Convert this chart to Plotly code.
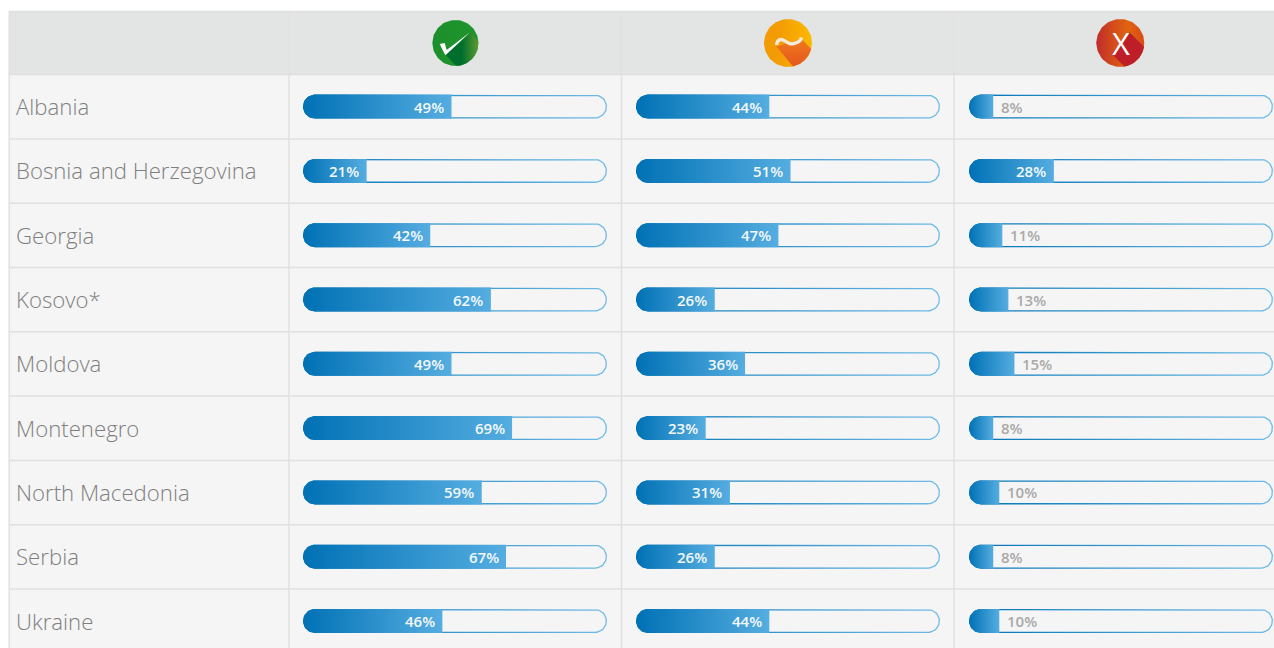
import numpy as np
import plotly.graph_objects as go

countries = ["Albania", "Bosnia and Herzegovina", "Georgia", "Kosovo*", "Moldova",
             "Montenegro", "North Macedonia", "Serbia", "Ukraine"]
yes_values = [49, 21, 42, 62, 49, 69, 59, 67, 46]
partly_values = [44, 51, 47, 26, 36, 23, 31, 26, 44]
no_values = [8, 28, 11, 13, 15, 8, 10, 8, 10]
series = [yes_values, partly_values, no_values]

W, H = 1274, 648
ROW_PITCH = 64.3
ROW0 = 106.6
BAR_W = 304.0
BAR_X = [303.0, 636.0, 969.0]
PX_PER_PCT = 3.03
TRACK_END = BAR_W / PX_PER_PCT
R = 12.0
GRID = "#e0e0e0"
ROW_BG = "#f5f5f5"
HEAD_BG = "#e3e5e4"
BORDER_L, BORDER_R = "#0072b5", "#6fbbe6"
FILL_L, FILL_R = "#0071b5", "#55ade0"

fig = go.Figure()

def hgrad(*stops):
    n = len(stops) - 1
    return dict(type="horizontal", colorscale=[[i / n, c] for i, c in enumerate(stops)])

def pill(x0, x1, row, rad_px, round_right=True):
    t = np.linspace(-np.pi / 2, np.pi / 2, 25)
    ry = rad_px / ROW_PITCH
    rx = rad_px / PX_PER_PCT
    xl = x0 + rx - rx * np.cos(t)
    yl = row - ry * np.sin(t)
    if round_right:
        xr = x1 - rx + rx * np.cos(t)
        yr = row + ry * np.sin(t)
    else:
        xr = np.array([x1, x1])
        yr = np.array([row - ry, row + ry])
    return np.concatenate([xl, xr]), np.concatenate([yl, yr])

def add_area(xs, ys, xa, ya, fillcolor=None, fillgradient=None):
    kw = dict(x=list(xs) + [xs[0]], y=list(ys) + [ys[0]], mode="lines", fill="toself",
              line=dict(width=0), hoverinfo="skip", showlegend=False, xaxis=xa, yaxis=ya)
    if fillgradient:
        kw["fillgradient"] = fillgradient
    else:
        kw["fillcolor"] = fillcolor
    fig.add_trace(go.Scatter(**kw))

axes = ["x", "x2", "x3"]
for col, vals in enumerate(series):
    for row, v in enumerate(vals):
        xs, ys = pill(0, TRACK_END, row, R)
        add_area(xs, ys, axes[col], "y", fillgradient=hgrad(BORDER_L, BORDER_R))
        inset = 1.3
        xs, ys = pill(inset / PX_PER_PCT, TRACK_END - inset / PX_PER_PCT, row, R - inset)
        add_area(xs, ys, axes[col], "y", fillcolor=ROW_BG)
        xs, ys = pill(0, v, row, R, round_right=False)
        add_area(xs, ys, axes[col], "y", fillgradient=hgrad(FILL_L, FILL_R))

annotations = []
for col, vals in enumerate(series):
    for row, v in enumerate(vals):
        inside = v >= 20
        annotations.append(dict(
            x=v, y=row, xref=axes[col], yref="y", text=f"{v}%", showarrow=False,
            xanchor="right" if inside else "left", xshift=-5.5 if inside else 6, yshift=0,
            font=dict(family="Open Sans", size=15, weight=600,
                      color="#f4f8fb" if inside else "#a9a9a9")))
for row, c in enumerate(countries):
    annotations.append(dict(
        x=14 / W, y=row, xref="paper", yref="y", text=c, showarrow=False, xanchor="left",
        font=dict(family="Open Sans", size=22.2, weight=300, color="#7f7f7f")))

# ---------- page-space icons
def circle(cx, cy, r):
    t = np.linspace(0, 2 * np.pi, 90)
    return cx + r * np.cos(t), cy + r * np.sin(t)

def clip_poly(points, cx, cy, r):
    pts = np.array(points + [points[0]], float)
    out = []
    for a, b in zip(pts[:-1], pts[1:]):
        for s in np.linspace(0, 1, 30, endpoint=False):
            p = a + (b - a) * s
            d = np.hypot(*(p - [cx, cy]))
            if d > r:
                p = np.array([cx, cy]) + (p - [cx, cy]) * r / d
            out.append(p)
    out = np.array(out)
    return out[:, 0], out[:, 1]

# green
cx, cy, r = 455.4, 43.0, 23.0
xs, ys = circle(cx, cy, r)
add_area(xs, ys, "x4", "y2", fillgradient=hgrad("#1c8f2c", "#1f952b"))
xs, ys = clip_poly([(445.7, 54.7), (470, 32.3), (480, 42), (480, 60), (458, 68)], cx, cy, r)
add_area(xs, ys, "x4", "y2", fillgradient=hgrad("#006f2e", "#006f2e", "#5d9b2f"))
check = [(439.7, 44), (444.6, 43), (446.7, 50), (470, 32.3), (446, 54.7), (445, 54.7)]
add_area([p[0] for p in check], [p[1] for p in check], "x4", "y2", fillcolor="#ffffff")

# orange
cx, cy, r = 788.0, 43.0, 24.0
xs, ys = circle(cx, cy, r)
add_area(xs, ys, "x4", "y2", fillgradient=hgrad("#f39a05", "#f39c04", "#f8ab02", "#fbb900"))
xs, ys = clip_poly([(776.5, 46.5), (801, 38.5), (813, 50), (813, 62), (795, 69)], cx, cy, r)
add_area(xs, ys, "x4", "y2", fillgradient=dict(type="vertical", colorscale=[[0, "#e4571f"], [1, "#ef7a1c"]]))
wx = [776.5, 778, 781, 785, 789.5, 794, 798, 800.5, 801.5]
wy = [45, 41, 39.5, 41, 43.5, 43.5, 42, 40, 37.5]
fig.add_trace(go.Scatter(x=wx, y=wy, mode="lines", line=dict(color="#f5ead9", width=3.4, shape="spline"),
                         hoverinfo="skip", showlegend=False, xaxis="x4", yaxis="y2"))

# red
cx, cy, r = 1120.3, 43.0, 24.0
xs, ys = circle(cx, cy, r)
add_area(xs, ys, "x4", "y2", fillgradient=hgrad("#c02c2c", "#d24a1c", "#e0640f", "#d84a1a"))
xs, ys = clip_poly([(1111.7, 53.7), (1129.3, 32.3), (1146, 48), (1146, 62), (1127, 69)], cx, cy, r)
add_area(xs, ys, "x4", "y2", fillcolor="#bd1e27")

annotations.append(dict(x=1120.6, y=42.7, xref="x4", yref="y2", text="X", showarrow=False,
                        font=dict(family="Open Sans", size=31, weight=400, color="#ffffff")))

# ---------- table background
shapes = []
def rect(x0, y0, x1, y1, fill):
    shapes.append(dict(type="rect", xref="paper", yref="paper", layer="below",
                       x0=x0 / W, x1=x1 / W, y0=1 - y0 / H, y1=1 - y1 / H,
                       fillcolor=fill, line=dict(width=0)))
rect(9, 11, W, H, ROW_BG)
rect(9, 11, W, 74.5, HEAD_BG)
for y in [11.5, 74.6] + [74.6 + ROW_PITCH * (i + 1) for i in range(8)]:
    rect(9, y - 0.75, W, y + 0.75, GRID)
for x in [9.25, 289, 621.5, 954]:
    rect(x - 0.75, 11, x + 0.75, H, GRID)

layout_x = {}
for i, bx in enumerate(BAR_X):
    name = "xaxis" if i == 0 else f"xaxis{i + 1}"
    layout_x[name] = dict(domain=[bx / W, min(1, (bx + BAR_W) / W)],
                          range=[0, TRACK_END], visible=False, fixedrange=True)

fig.update_layout(
    width=W, height=H, margin=dict(l=0, r=0, t=0, b=0),
    paper_bgcolor="#ffffff", plot_bgcolor="rgba(0,0,0,0)",
    showlegend=False, shapes=shapes, annotations=annotations,
    yaxis=dict(domain=[0, 1], range=[(H - ROW0) / ROW_PITCH, -ROW0 / ROW_PITCH], visible=False, fixedrange=True),
    yaxis2=dict(domain=[0, 1], range=[H, 0], visible=False, fixedrange=True, overlaying="y"),
    xaxis4=dict(domain=[0, 1], range=[0, W], visible=False, fixedrange=True),
    **layout_x,
)
fig.write_html("out.html", config=dict(displayModeBar=False),
               post_script="document.body.style.margin='0';")
